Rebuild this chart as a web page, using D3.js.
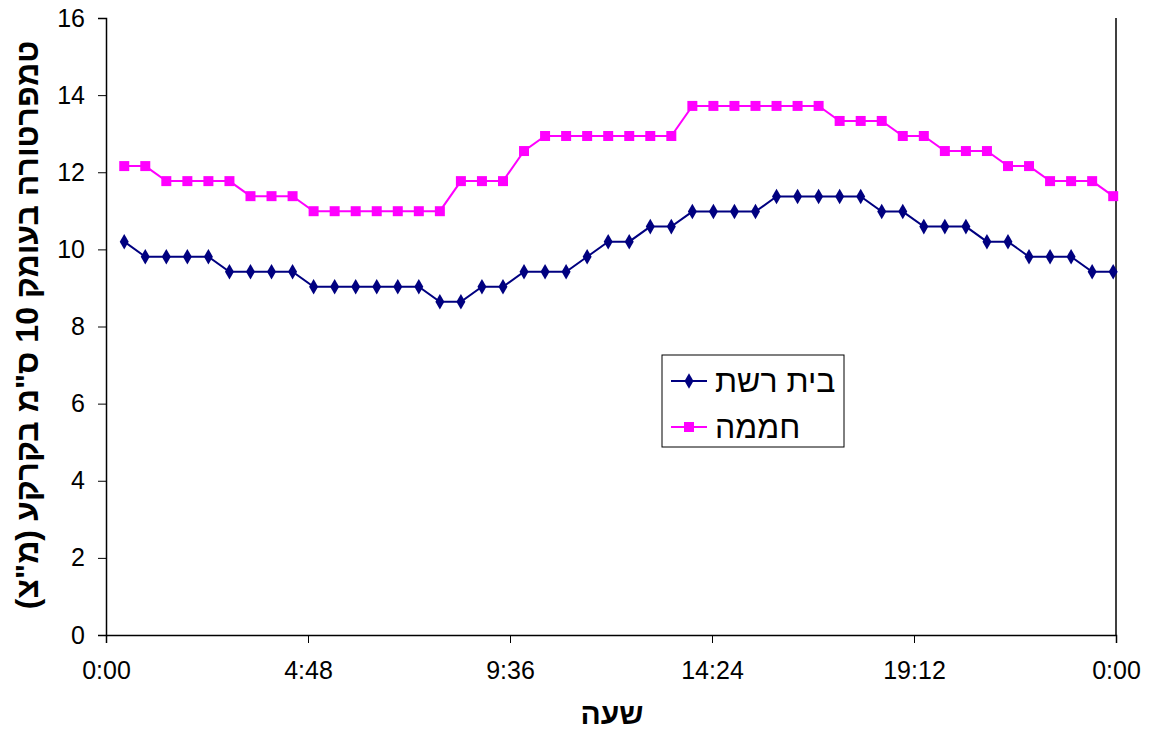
<!DOCTYPE html>
<html>
<head>
<meta charset="utf-8">
<script src="https://cdn.jsdelivr.net/npm/d3@7"></script>
<style>
  html, body { margin: 0; padding: 0; background: #fff; }
  svg { display: block; font-family: "Liberation Sans", Arial, sans-serif; }
</style>
</head>
<body>
<svg id="chart" width="1152" height="736"></svg>
<script>
// ---- data ----
const times = ["0:26","0:56","1:26","1:56","2:26","2:56","3:26","3:56","4:26","4:56",
  "5:26","5:56","6:26","6:56","7:26","7:56","8:26","8:56","9:26","9:56",
  "10:26","10:56","11:26","11:56","12:26","12:56","13:26","13:56","14:26","14:56",
  "15:26","15:56","16:26","16:56","17:26","17:56","18:26","18:56","19:26","19:56",
  "20:26","20:56","21:26","21:56","22:26","22:56","23:26","23:56"];
const netHouse = [10.20, 9.81, 9.81, 9.81, 9.81, 9.42, 9.42, 9.42, 9.42, 9.03,
  9.03, 9.03, 9.03, 9.03, 9.03, 8.64, 8.64, 9.03, 9.03, 9.42,
  9.42, 9.42, 9.81, 10.20, 10.20, 10.59, 10.59, 10.98, 10.98, 10.98,
  10.98, 11.37, 11.37, 11.37, 11.37, 11.37, 10.98, 10.98, 10.59, 10.59,
  10.59, 10.20, 10.20, 9.81, 9.81, 9.81, 9.42, 9.42];
const greenhouse = [12.16, 12.16, 11.77, 11.77, 11.77, 11.77, 11.38, 11.38, 11.38, 10.99,
  10.99, 10.99, 10.99, 10.99, 10.99, 10.99, 11.77, 11.77, 11.77, 12.55,
  12.94, 12.94, 12.94, 12.94, 12.94, 12.94, 12.94, 13.72, 13.72, 13.72,
  13.72, 13.72, 13.72, 13.72, 13.33, 13.33, 13.33, 12.94, 12.94, 12.55,
  12.55, 12.55, 12.16, 12.16, 11.77, 11.77, 11.77, 11.38];
const seriesNames = ["בית רשת", "חממה"];
const xTickHours = [0, 4.8, 9.6, 14.4, 19.2, 24];
const xTickLabels = ["0:00", "4:48", "9:36", "14:24", "19:12", "0:00"];
const yTicks = [0, 2, 4, 6, 8, 10, 12, 14, 16];
const xTitle = "שעה";
const yTitle = 'טמפרטורה בעומק 10 ס"מ בקרקע (מ"צ)';

(function () {
// ---- layout ----
const svg = d3.select("#chart");
const pLeft = 106, pRight = 1116, pTop = 18, pBottom = 635;
const toHours = t => { const [h, m] = t.split(":").map(Number); return h + m / 60; };

const x = d3.scaleLinear().domain([0, 24]).range([pLeft, pRight]);
const y = d3.scaleLinear().domain([0, 16]).range([pBottom, pTop]);

// axes
const yAxis = d3.axisLeft(y).tickValues(yTicks).tickSize(8).tickPadding(13).tickFormat(d3.format("d"));
const gy = svg.append("g").attr("transform", `translate(${pLeft},0)`).call(yAxis);
gy.select(".domain").attr("stroke", "#000").attr("stroke-width", 1.5);
gy.selectAll(".tick line").attr("stroke", "#000").attr("stroke-width", 1);
gy.selectAll("text").attr("font-size", 25).attr("fill", "#000").attr("font-family", "Liberation Sans, Arial, sans-serif");

const xAxis = d3.axisBottom(x).tickValues(xTickHours).tickSize(8).tickPadding(18)
  .tickFormat((d, i) => xTickLabels[i]);
const gx = svg.append("g").attr("transform", `translate(0,${pBottom})`).call(xAxis);
gx.select(".domain").attr("stroke", "#000").attr("stroke-width", 1.5);
gx.selectAll(".tick line").attr("stroke", "#000").attr("stroke-width", 1);
gx.selectAll("text").attr("font-size", 25).attr("fill", "#000").attr("font-family", "Liberation Sans, Arial, sans-serif");

// right frame line
svg.append("line").attr("x1", pRight).attr("x2", pRight).attr("y1", pTop).attr("y2", pBottom)
  .attr("stroke", "#000").attr("stroke-width", 1.5);

// series
const series = [
  { name: seriesNames[0], values: netHouse, color: "#000080", shape: d3.symbolDiamond },
  { name: seriesNames[1], values: greenhouse, color: "#FF00FF", shape: d3.symbolSquare }
];
const line = d3.line().x((d, i) => x(toHours(times[i]))).y(d => y(d));
const markerPath = (s) => s.shape === d3.symbolSquare ? d3.symbol(d3.symbolSquare, 100)() : d3.symbol(d3.symbolDiamond, 70)();

series.forEach(s => {
  svg.append("path").datum(s.values).attr("d", line)
    .attr("fill", "none").attr("stroke", s.color).attr("stroke-width", 2);
  svg.append("g").selectAll("path").data(s.values).join("path")
    .attr("transform", (d, i) => `translate(${x(toHours(times[i]))},${y(d)})`)
    .attr("d", markerPath(s)).attr("fill", s.color);
});

// legend
const lg = svg.append("g");
lg.append("rect").attr("x", 662).attr("y", 355).attr("width", 182).attr("height", 92)
  .attr("fill", "#fff").attr("stroke", "#000").attr("stroke-width", 1);
series.forEach((s, i) => {
  const ly = 381 + i * 46;
  lg.append("line").attr("x1", 671).attr("x2", 707).attr("y1", ly).attr("y2", ly)
    .attr("stroke", s.color).attr("stroke-width", 2);
  lg.append("path").attr("transform", `translate(689,${ly})`).attr("d", markerPath(s)).attr("fill", s.color);
  lg.append("text").attr("x", 715).attr("y", ly).attr("dominant-baseline", "central")
    .attr("font-size", 32).attr("fill", "#000").text(s.name);
});

// titles
svg.append("text").attr("x", 612).attr("y", 724).attr("text-anchor", "middle")
  .attr("font-size", 30).attr("font-weight", "bold").attr("direction", "rtl").text(xTitle);
svg.append("text").attr("transform", "translate(27,325) rotate(-90)")
  .attr("text-anchor", "middle").attr("dominant-baseline", "central")
  .attr("font-size", 32).attr("font-weight", "bold").attr("direction", "rtl").text(yTitle);
})();
</script>
</body>
</html>
